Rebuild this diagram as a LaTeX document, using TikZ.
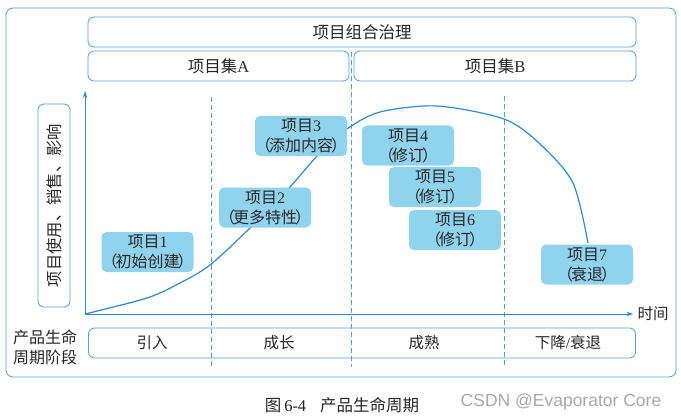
\documentclass[tikz,border=0pt]{standalone}
\usepackage{fontspec}
\setmainfont{Liberation Serif}
\newfontfamily\cjk{Noto Sans CJK SC}
\newfontfamily\csdnfont{Liberation Sans}
\usetikzlibrary{arrows.meta}
\definecolor{frameblue}{HTML}{4A9FDC}
\definecolor{curveblue}{HTML}{2E88D8}
\definecolor{pfill}{HTML}{8FD3EE}
\definecolor{txt}{HTML}{262626}
\definecolor{wm}{HTML}{A8A8A8}
\newcommand{\pjtext}[2]{{\cjk 项目}#1\\{\cjk \kern-2pt（\kern-2pt #2\kern-2pt）\kern-2pt}}
\begin{document}
\begin{tikzpicture}[x=1pt,y=-1pt,
  box/.style={draw=frameblue, line width=0.8pt, rounded corners=6pt, inner sep=0pt, text=txt, font=\fontsize{16.5}{19}\selectfont},
  proj/.style={fill=pfill, rounded corners=5pt, minimum width=92pt, minimum height=40pt, inner sep=0pt, align=center, text=txt, font=\fontsize{16}{20}\selectfont},
  lbl/.style={text=txt, inner sep=1pt, font=\fontsize{15.5}{19}\selectfont, align=center},
  guide/.style={draw=frameblue, line width=0.7pt, dash pattern=on 5pt off 3pt},
  axis/.style={draw=curveblue, line width=0.9pt, -{Stealth[length=7pt,width=4.5pt]}},
  curve/.style={draw=curveblue, line width=1.2pt}]
\useasboundingbox (0,0) rectangle (681,420);

% outer frame
\node[box, rounded corners=7pt, minimum width=670pt, minimum height=369pt] (frame) at (341,192.5) {};

% top boxes
\node[box, minimum width=548pt, minimum height=30pt] (pf) at (362,32) {\cjk 项目组合治理};
\node[box, minimum width=261pt, minimum height=30pt] (pa) at (218.5,66) {{\cjk 项目集}A};
\node[box, minimum width=282pt, minimum height=30pt] (pb) at (495,66) {{\cjk 项目集}B};

% y label
\node[box, minimum width=32pt, minimum height=203pt] (ylab) at (54,205.5) {};
\node[lbl, rotate=90, font=\fontsize{16.3}{19}\selectfont] (ylabt) at (ylab.center) {\cjk 项目使用、销售、影响};

% stage box
\node[box, minimum width=547pt, minimum height=30pt] (stage) at (362,343) {};
\node[lbl] (s1) at (152,343) {\cjk 引入};
\node[lbl] (s2) at (279,343) {\cjk 成长};
\node[lbl] (s3) at (424,343) {\cjk 成熟};
\node[lbl] (s4) at (568,343) {{\cjk 下降}/{\cjk 衰退}};
\node[lbl, font=\fontsize{16}{20}\selectfont] (plc) at (45,347) {\cjk 产品生命\\\cjk 周期阶段};

% guides
\coordinate (g1t) at (211,97);  \coordinate (g1b) at (211,367);
\coordinate (g2t) at (351,52);  \coordinate (g2b) at (351,367);
\coordinate (g3t) at (504,96);  \coordinate (g3b) at (504,367);
\draw[guide] (g1t) -- (g1b);
\draw[guide] (g2t) -- (g2b);
\draw[guide] (g3t) -- (g3b);

% axes
\coordinate (O) at (85,314);
\coordinate (ytop) at (85,91);
\node[lbl, inner sep=4pt] (time) at (653,314) {\cjk 时间};
\draw[axis] (O) -- (ytop);
\draw[axis] (O) -- (time.west);

% curve
\draw[curve] plot[smooth, tension=0.5] coordinates {(85,314) (147,298) (180,283) (210,265) (250,228) (290,187) (318,155) (347,129) (380,112) (437,106) (504,119) (540,144) (573,183) (588,243)};

% projects
\node[proj] (p1) at (147.5,252) {\pjtext{1}{初始创建}};
\node[proj] (p2) at (265,207.5) {\pjtext{2}{更多特性}};
\node[proj] (p3) at (301,136) {\pjtext{3}{添加内容}};
\node[proj] (p4) at (408,145.5) {\pjtext{4}{修订}};
\node[proj] (p5) at (435,187) {\pjtext{5}{修订}};
\node[proj] (p6) at (455,230) {\pjtext{6}{修订}};
\node[proj] (p7) at (587,264.5) {\pjtext{7}{衰退}};

% caption
\node[text=txt, inner sep=0pt, font=\fontsize{16.5}{19}\selectfont] (cap) at (342,405) {{\cjk 图}\kern3pt 6-4\hspace{14pt}{\cjk 产品生命周期}};
\node[text=wm, inner sep=0pt, font=\csdnfont\fontsize{17.5}{20}\selectfont] (csdn) at (561,402) {CSDN @Evaporator Core};
\end{tikzpicture}
\end{document}
